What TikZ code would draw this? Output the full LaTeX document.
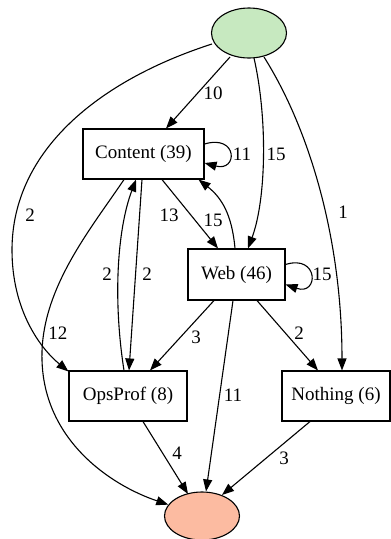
\documentclass[tikz,border=0pt]{standalone}
\usepackage{fontspec}
\setmainfont{Liberation Serif}
\usetikzlibrary{shapes.geometric,arrows.meta,calc}
\definecolor{startfill}{HTML}{C7E9C0}
\definecolor{endfill}{HTML}{FCBBA1}
\begin{document}
\begin{tikzpicture}[x=1pt,y=-1pt,
  every node/.style={font=\fontsize{19}{21}\selectfont},
  box/.style={draw,line width=1.1pt,rectangle,inner sep=0pt,minimum height=50pt},
  oval/.style={draw,line width=1.1pt,ellipse,inner sep=0pt,minimum width=75pt,minimum height=50pt},
  edge/.style={line width=1.1pt,-{Triangle[length=12pt,width=9pt]}},
  lbl/.style={inner sep=0pt}]
\useasboundingbox (0,0) rectangle (391,539);
% nodes
\node[oval,fill=startfill] (start) at (249,33) {};
\node[box,minimum width=121pt] (content) at (143.5,154) {Content (39)};
\node[box,minimum width=97pt,minimum height=51pt] (web) at (236.5,274.5) {Web (46)};
\node[box,minimum width=118pt] (ops) at (128,396) {OpsProf (8)};
\node[box,minimum width=108pt] (noth) at (336,396) {Nothing (6)};
\node[oval,fill=endfill,minimum height=48pt] (end) at (202,516) {};
% edges
\draw[edge] ($(start.center)+(-19,24)$) -- ($(content.north)+(22.5,0)$);
\draw[edge] ($(start.center)+(5,25)$) .. controls (268,120) and (266,200) .. ($(web.north)+(11.5,0)$);
\draw[edge] ($(start.center)+(15,24)$) .. controls (310,130) and (342,240) .. ($(noth.north)+(6,0)$);
\draw[edge] ($(start.center)+(-37,11)$) .. controls (100,80) and (12,150) .. (12,250) .. controls (12,310) and (40,348) .. ($(ops.north west)+(0,1)$);
\draw[edge] ($(content.east)+(0,-10)$) .. controls (238,134) and (238,172) .. ($(content.east)+(0,9)$);
\draw[edge] ($(content.south)+(18.5,0)$) -- ($(web.north)+(-18.5,0)$);
\draw[edge] ($(web.north)+(-1.5,0)$) .. controls (232,215) and (222,198) .. ($(content.south east)+(-6,0)$);
\draw[edge] ($(content.south)+(-1.5,0)$) -- ($(ops.north)+(1,0)$);
\draw[edge] ($(ops.north)+(-4,0)$) .. controls (113,300) and (117,230) .. ($(content.south)+(-7.5,0)$);
\draw[edge] ($(content.south)+(-19.5,0)$) .. controls (90,230) and (40,290) .. (42,360) .. controls (44,440) and (110,485) .. (end);
\draw[edge] ($(web.east)+(0,-10)$) .. controls (319,254) and (319,296) .. ($(web.east)+(0,10)$);
\draw[edge] ($(web.south)+(-22.5,0)$) -- ($(ops.north)+(22,0)$);
\draw[edge] ($(web.south)+(20.5,0)$) -- ($(noth.north)+(-18,0)$);
\draw[edge] ($(web.south)+(-3.5,0)$) -- ($(end.north)+(4,0)$);
\draw[edge] ($(ops.south)+(15,0)$) -- ($(end.center)+(-14,-22)$);
\draw[edge] ($(noth.south)+(-26,0)$) -- ($(end.center)+(20,-21)$);
% labels
\node[lbl] (l1) at (213,93) {10};
\node[lbl] (l2) at (276,154) {15};
\node[lbl] (l3) at (343,212) {1};
\node[lbl] (l4) at (30,215) {2};
\node[lbl] (l5) at (242,154) {11};
\node[lbl] (l6) at (169,215) {13};
\node[lbl] (l7) at (213,220) {15};
\node[lbl] (l8) at (147,274) {2};
\node[lbl] (l9) at (107,274) {2};
\node[lbl] (l10) at (58,333) {12};
\node[lbl] (l11) at (322,274) {15};
\node[lbl] (l12) at (196,337) {3};
\node[lbl] (l13) at (299,333) {2};
\node[lbl] (l14) at (233,395) {11};
\node[lbl] (l15) at (177,453) {4};
\node[lbl] (l16) at (284,458) {3};
\end{tikzpicture}
\end{document}
